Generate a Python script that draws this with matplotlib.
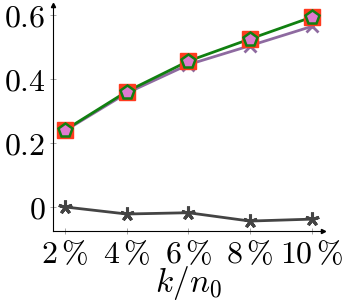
import matplotlib.pyplot as plt

plt.rcParams['mathtext.fontset'] = 'cm'
plt.rcParams['font.family'] = 'serif'

x = [2, 4, 6, 8, 10]
xlabels = [r'$2\,\%$', r'$4\,\%$', r'$6\,\%$', r'$8\,\%$', r'$10\,\%$']
yticks = [0, 0.2, 0.4, 0.6]
ylabels = [r'$0$', r'$0.2$', r'$0.4$', r'$0.6$']

green = [0.24, 0.36, 0.455, 0.524, 0.592]
purple = [0.238, 0.355, 0.444, 0.503, 0.563]
gray = [0.0, -0.022, -0.018, -0.044, -0.038]

fig = plt.figure(figsize=(3.47, 3.03), dpi=100)
ax = fig.add_axes([53 / 347, 1 - 231 / 303, (323 - 53) / 347, (231 - 5) / 303])

ax.plot(x, purple, color='#8e6aa0', lw=2, marker='x', ms=8, mew=2, zorder=3)
ax.plot(x, green, color='#108010', lw=2, zorder=4)
ax.plot(x, green, ls='none', marker='s', ms=12, color='#ff3b1f', zorder=5)
ax.plot(x, green, ls='none', marker='p', ms=10, mfc='#e07ad0', mec='#108010', mew=1.8, zorder=6)
ax.plot(x, gray, color='#444444', lw=2, marker=(5, 2, 0), ms=10, mew=2.2, zorder=3)

ax.set_xlim(1.61, 10.37)
ax.set_ylim(-0.075, 0.63)
ax.set_xticks(x)
ax.set_xticklabels(xlabels, fontsize=23)
ax.set_yticks(yticks)
ax.set_yticklabels(ylabels, fontsize=23)
ax.tick_params(direction='inout', length=5, width=0.6, color='#999999', pad=3)
ax.set_xlabel(r'$k/n_0$', fontsize=24, labelpad=-4)

for s in ['top', 'right']:
    ax.spines[s].set_visible(False)
for s in ['left', 'bottom']:
    ax.spines[s].set_linewidth(0.8)
ax.plot(1, 0, '>k', ms=3, transform=ax.transAxes, clip_on=False)
ax.plot(0, 1, '^k', ms=3, transform=ax.transAxes, clip_on=False)

fig.savefig('out.png', dpi=100)
